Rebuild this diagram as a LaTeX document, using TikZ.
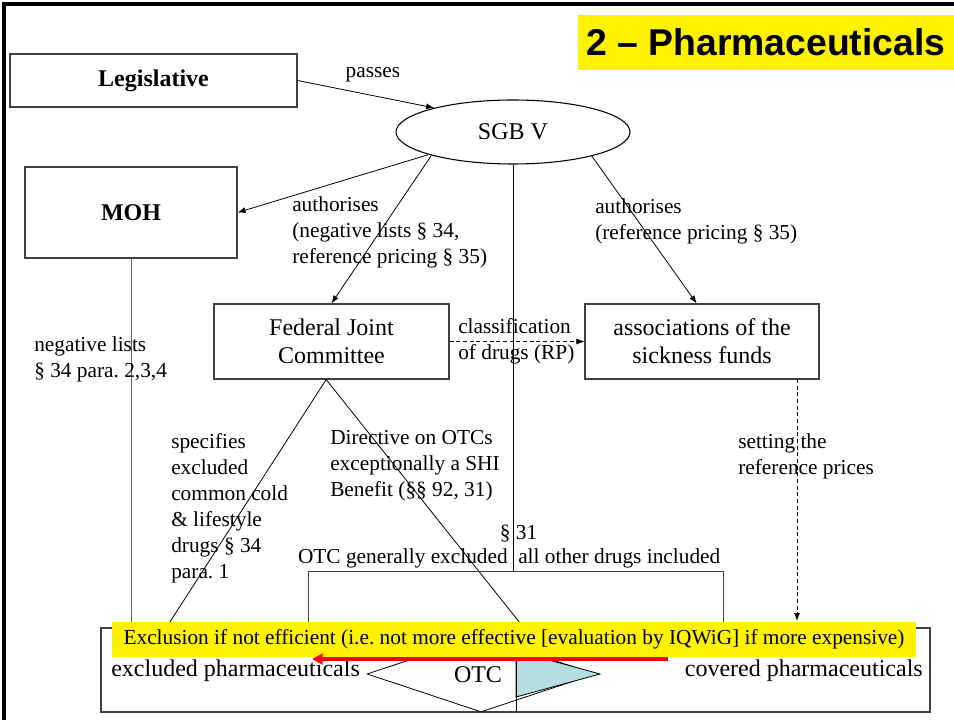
\documentclass[tikz,border=0pt]{standalone}
\usepackage{fontspec}
\setmainfont{Liberation Serif}
\newfontfamily\titlefont{Liberation Sans}
\usetikzlibrary{arrows.meta,shapes.geometric,calc}
\definecolor{tealfill}{RGB}{182,222,224}
\frenchspacing
\begin{document}
\begin{tikzpicture}[x=0.75pt,y=-0.75pt,
  box/.style={draw=black!75,line width=0.8pt,inner sep=0pt,align=center,font=\fontsize{18}{21}\selectfont},
  bbox/.style={box,font=\bfseries\fontsize{18}{21}\selectfont},
  lbl/.style={inner sep=0pt,align=left,font=\fontsize{16}{19.5}\selectfont},
  conn/.style={line width=0.6pt,-{Latex[length=6pt,width=4.5pt]}},
  plain/.style={line width=0.6pt},
  dconn/.style={line width=0.6pt,dashed,dash pattern=on 3pt off 2pt,-{Latex[length=6pt,width=4.5pt]}}
]
\useasboundingbox (0,0) rectangle (954,720);
% frame
\draw[line width=2.4pt] (4,720) -- (4,4) -- (954,4);
% title
\node[fill=yellow,minimum width={376*0.75pt},minimum height={55*0.75pt},inner sep=0pt,
  font=\titlefont\bfseries\fontsize{28}{32}\selectfont] (title) at (766,42.5) {2 – Pharmaceuticals};
% main nodes
\node[bbox,minimum width={287*0.75pt},minimum height={53*0.75pt}] (leg) at (153.5,80.5) {Legislative};
\node[bbox,minimum width={212*0.75pt},minimum height={91*0.75pt}] (moh) at (131,212.5) {MOH};
\node[ellipse,draw,line width=0.8pt,minimum width={234*0.75pt},minimum height={64*0.75pt},inner sep=0pt,
  font=\fontsize{18}{21}\selectfont] (sgb) at (513,132) {SGB V};
\node[box,minimum width={235*0.75pt},minimum height={75*0.75pt}] (fjc) at (331.5,341.5) {Federal Joint\\Committee};
\node[box,minimum width={234*0.75pt},minimum height={75*0.75pt}] (asf) at (702,341.5) {associations of the\\sickness funds};
% bottom structures
\node[box,minimum width={414*0.75pt},minimum height={56*0.75pt},draw=none] (otcbox) at (516,600) {};
\node[box,minimum width={829*0.75pt},minimum height={84*0.75pt}] (bot) at (515.5,670) {};
\coordinate (otctop) at (513,572);
\coordinate (mohend) at (131,628);
\coordinate (fjcl) at (166,628);
\coordinate (fjcr) at (524,628);
\coordinate (asfs) at (797,379);
\coordinate (asfe) at (797,621);
% connectors
\draw[conn] (leg.east) -- (sgb.163);
\draw[conn] (sgb.195) -- (moh.east);
\draw[conn] (sgb.196.5) -- (fjc.north);
\draw[conn] (sgb.-17) -- ([xshift=-4pt]asf.north);
\draw[plain] (sgb.south) -- (otctop);
\draw[dconn] (fjc.east) -- (asf.west);
\draw[dconn] (asfs) -- (asfe);
\draw[plain,draw=black!60] (moh.south) -- (mohend);
\draw[plain] ([xshift=-4pt]fjc.south) -- (fjcl);
\draw[plain] ([xshift=-4pt]fjc.south) -- (fjcr);
\draw[line width=0.8pt,draw=black!75] (otcbox.south west) -- (otcbox.north west) -- (otcbox.north east) -- (otcbox.south east);
% diamond and teal part
\node[diamond,draw,fill=white,line width=0.6pt,minimum width={228*0.75pt},minimum height={76*0.75pt},inner sep=0pt] (dia) at (481,674) {};
\fill[tealfill,draw=black,line width=0.6pt] (516,651) -- (600,674) -- (516,697) -- cycle;
\coordinate (divt) at (516,628);
\coordinate (divb) at (516,712);
\draw[plain] (divt) -- (divb);
% labels
\node[lbl] (lpasses) at (373,75) {passes};
\node[lbl,anchor=west] (lauth1) at (292,232) {authorises\\(negative lists § 34,\\reference pricing § 35)};
\node[lbl,anchor=west] (lauth2) at (595,221.5) {authorises\\(reference pricing § 35)};
\node[lbl,anchor=west] (lneg) at (34,359) {negative lists\\§ 34 para. 2,3,4};
\node[lbl,anchor=west] (lclass) at (458,341) {classification\\of drugs (RP)};
\node[lbl,anchor=west] (lset) at (738,456) {setting the\\reference prices};
\node[lbl,anchor=west] (lspec) at (171,508) {specifies\\excluded\\common cold\\\& lifestyle\\drugs § 34\\para. 1};
\node[lbl,anchor=west] (ldir) at (330,466) {Directive on OTCs\\exceptionally a SHI\\Benefit (§§ 92, 31)};
\node[lbl] (l31) at (518.5,534) {§ 31};
\node[lbl,anchor=east] (lotcex) at (508,558) {OTC generally excluded};
\node[lbl,anchor=west] (lother) at (518,558) {all other drugs included};
\node[inner sep=0pt,anchor=west,font=\fontsize{18}{21}\selectfont] (lexcl) at (111,671) {excluded pharmaceuticals};
\node[inner sep=0pt,anchor=east,font=\fontsize{18}{21}\selectfont] (lcov) at (923,671) {covered pharmaceuticals};
\node[inner sep=0pt,font=\fontsize{18}{21}\selectfont] (lotc) at (478,675) {OTC};
% yellow bar and red arrow
\node[fill=yellow,minimum width={804*0.75pt},minimum height={35*0.75pt},inner sep=0pt,
  font=\fontsize{16}{19}\selectfont] (ybar) at (514,639.5) {Exclusion if not efficient (i.e. not more effective [evaluation by IQWiG] if more expensive)};
\coordinate (ra) at (668,659);
\coordinate (rb) at (312,659);
\draw[red,line width=3pt,-{Triangle[length=8pt,width=8pt]}] (ra) -- (rb);
\end{tikzpicture}
\end{document}
